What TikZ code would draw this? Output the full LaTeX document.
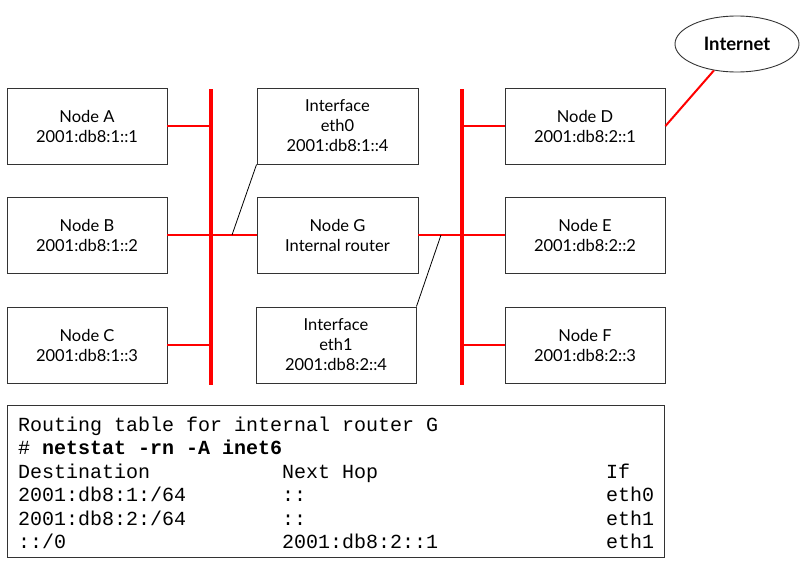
\documentclass[tikz,border=0pt]{standalone}
\usepackage{fontspec}
\setmainfont{Lato}
\setmonofont{Liberation Mono}
\usetikzlibrary{shapes.geometric}
\begin{document}
\begin{tikzpicture}[x=1pt,y=-1pt,
  box/.style={draw=black!80, line width=0.9pt, minimum width=160pt, minimum height=76pt,
    align=center, inner sep=0pt, font=\fontsize{16.5}{20}\selectfont},
  bus/.style={red, line width=4pt},
  link/.style={red, line width=2pt},
  thinlink/.style={black, line width=0.8pt},
  mono/.style={font=\fontsize{20}{24}\selectfont\ttfamily, anchor=base west, inner sep=0pt}]
\useasboundingbox (0,0) rectangle (807,568);
% boxes
\node[box] (A) at (87,126) {Node A\\2001:db8:1::1};
\node[box] (B) at (87,235) {Node B\\2001:db8:1::2};
\node[box] (C) at (87,345) {Node C\\2001:db8:1::3};
\node[box, minimum width=161pt] (eth0) at (337.5,126) {Interface\\eth0\\2001:db8:1::4};
\node[box, minimum width=161pt] (G) at (337.5,235) {Node G\\Internal router};
\node[box] (eth1) at (336,345) {Interface\\eth1\\2001:db8:2::4};
\node[box] (D) at (585,126) {Node D\\2001:db8:2::1};
\node[box] (E) at (585,235) {Node E\\2001:db8:2::2};
\node[box] (F) at (585,345) {Node F\\2001:db8:2::3};
\node[ellipse, draw=black!80, line width=0.9pt, minimum width=124pt, minimum height=56pt,
  inner sep=0pt, font=\fontsize{18.5}{20}\selectfont\bfseries] (inet) at (737,44) {Internet};
% buses
\coordinate (bl1) at (211,89);
\coordinate (bl2) at (211,385);
\coordinate (br1) at (462,89);
\coordinate (br2) at (462,385);
\draw[bus] (bl1) -- (bl2);
\draw[bus] (br1) -- (br2);
% links
\draw[link] (A.east) -- (A.east -| bl1);
\draw[link] (B.east) -- (B.east -| bl1);
\draw[link] (C.east) -- (C.east -| bl1);
\draw[link] (G.west) -- (G.west -| bl1);
\draw[link] (G.east) -- (G.east -| br1);
\draw[link] (D.west) -- (D.west -| br1);
\draw[link] (E.west) -- (E.west -| br1);
\draw[link] (F.west) -- (F.west -| br1);
\draw[link] (D.east) -- (inet);
% interface pointers
\coordinate (j0) at (232,235);
\coordinate (j1) at (441,235);
\draw[thinlink] (eth0.south west) -- (j0);
\draw[thinlink] (eth1.north east) -- (j1);
% routing table
\node[draw=black!80, line width=0.9pt, minimum width=657pt, minimum height=152pt, inner sep=0pt] (tbl) at (335.5,481) {};
\node[mono] (t1) at (18,431) {Routing table for internal router G};
\node[mono] (t2) at (18,454.5) {\# \textbf{netstat -rn -A inet6}};
\node[mono] (h1) at (18,478) {Destination};
\node[mono] (h2) at (282,478) {Next Hop};
\node[mono] (h3) at (606,478) {If};
\node[mono] (r11) at (18,501.5) {2001:db8:1:/64};
\node[mono] (r12) at (282,501.5) {::};
\node[mono] (r13) at (606,501.5) {eth0};
\node[mono] (r21) at (18,525) {2001:db8:2:/64};
\node[mono] (r22) at (282,525) {::};
\node[mono] (r23) at (606,525) {eth1};
\node[mono] (r31) at (18,548.5) {::/0};
\node[mono] (r32) at (282,548.5) {2001:db8:2::1};
\node[mono] (r33) at (606,548.5) {eth1};
\end{tikzpicture}
\end{document}
